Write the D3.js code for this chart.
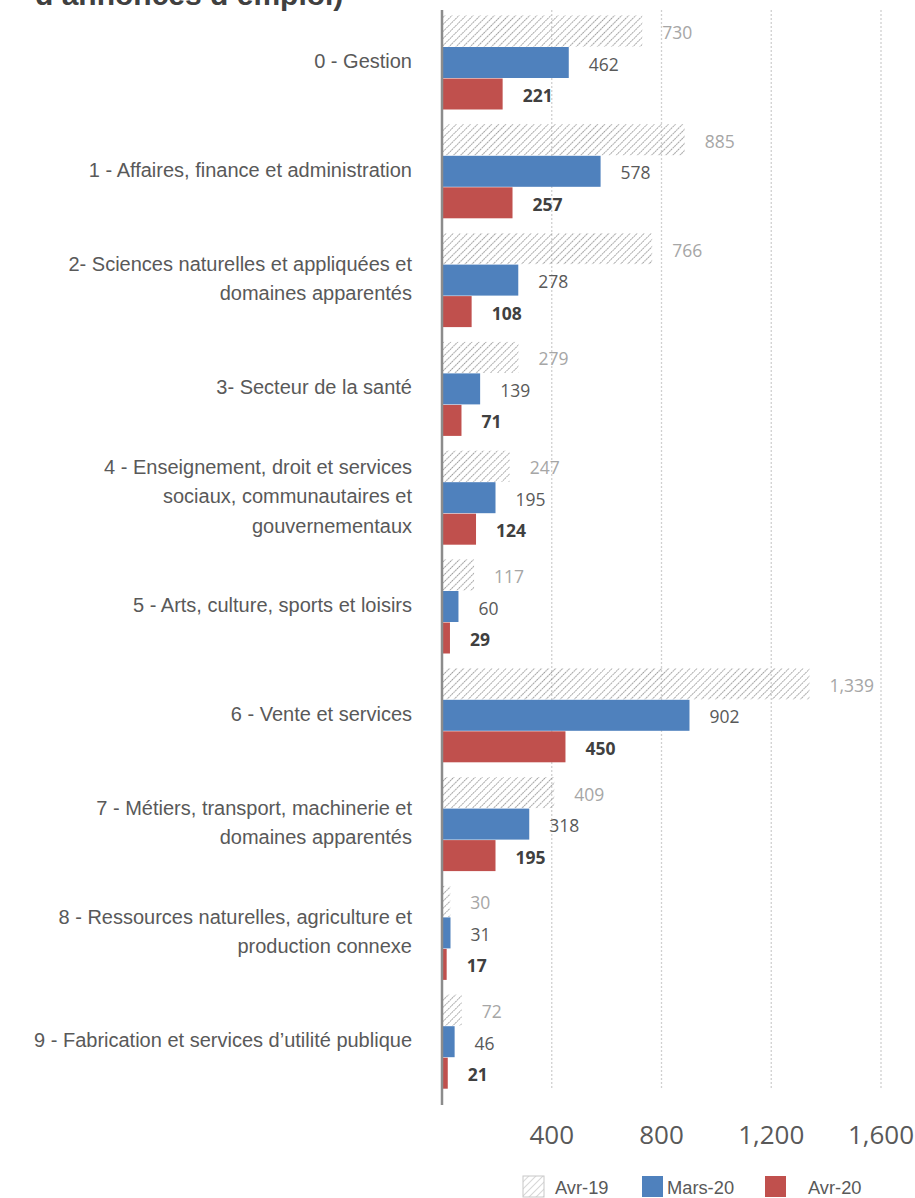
<!DOCTYPE html>
<html><head><meta charset="utf-8">
<script src="https://cdn.jsdelivr.net/npm/d3@7"></script>
<style>body{margin:0;background:#fff}svg{display:block}</style>
</head><body>
<script>
const categories = [
  ["0 - Gestion"],
  ["1 - Affaires, finance et administration"],
  ["2- Sciences naturelles et appliquées et","domaines apparentés"],
  ["3- Secteur de la santé"],
  ["4 - Enseignement, droit et services","sociaux, communautaires et","gouvernementaux"],
  ["5 - Arts, culture, sports et loisirs"],
  ["6 - Vente et services"],
  ["7 - Métiers, transport, machinerie et","domaines apparentés"],
  ["8 - Ressources naturelles, agriculture et","production connexe"],
  ["9 - Fabrication et services d’utilité publique"]
];
const seriesNames = ["Avr-19","Mars-20","Avr-20"];
const avr19 = [730,885,766,279,247,117,1339,409,30,72];
const mars20 = [462,578,278,139,195,60,902,318,31,46];
const avr20 = [221,257,108,71,124,29,450,195,17,21];
const ticks = [400,800,1200,1600];
const title = "d’annonces d’emploi)";

const W=915,H=1198;
const svg=d3.select("body").append("svg").attr("width",W).attr("height",H);
const defs=svg.append("defs");
const pat=defs.append("pattern").attr("id","hatch").attr("patternUnits","userSpaceOnUse")
  .attr("width",5).attr("height",5).attr("patternTransform","rotate(45)");
pat.append("line").attr("x1",0).attr("y1",0).attr("x2",0).attr("y2",5)
  .attr("stroke","#999").attr("stroke-width",1.9).attr("stroke-dasharray","1.8 0.7");
const pat2=defs.append("pattern").attr("id","hatchL").attr("patternUnits","userSpaceOnUse")
  .attr("width",5).attr("height",5).attr("patternTransform","rotate(45)");
pat2.append("line").attr("x1",0).attr("y1",0).attr("x2",0).attr("y2",5)
  .attr("stroke","#b0b0b0").attr("stroke-width",1);

const x=d3.scaleLinear().domain([0,1600]).range([442,881]);
const idx=d3.range(categories.length);
const y=d3.scaleBand().domain(idx).range([8.5,1096.5]);
const yi=d3.scaleBand().domain([0,1,2]).range([7,101.5]);

svg.append("text").attr("x",35).attr("y",5).attr("font-family","Liberation Sans, Arial, sans-serif")
  .attr("font-weight","bold").attr("font-size",30).attr("fill","#404040").text(title);

// gridlines
svg.append("g").selectAll("line").data(ticks).join("line")
  .attr("x1",d=>x(d)).attr("x2",d=>x(d)).attr("y1",10).attr("y2",1088)
  .attr("stroke","#d0d0d0").attr("stroke-width",1.3).attr("stroke-dasharray","2 2");

const series=[avr19,mars20,avr20];
const fills=["url(#hatch)","#4f81bd","#c0504d"];
const lblColor=["#a6a6a6","#595959","#404040"];
const lblWeight=["normal","normal","bold"];

series.forEach((vals,s)=>{
  const g=svg.append("g");
  g.selectAll("rect").data(vals).join("rect")
    .attr("x",x(0)).attr("y",(d,i)=>y(i)+yi(s)).attr("width",d=>x(d)-x(0))
    .attr("height",yi.bandwidth()-0.5).attr("fill",fills[s]);
  g.selectAll("text").data(vals).join("text")
    .attr("x",d=>x(d)+20).attr("y",(d,i)=>y(i)+yi(s)+yi.bandwidth()/2+1.5)
    .attr("dy","0.36em").attr("font-family","Open Sans, sans-serif").attr("font-size",17.5)
    .attr("fill",lblColor[s]).attr("font-weight",lblWeight[s]).text(d=>d3.format(",")(d));
});

// axis line
svg.append("line").attr("x1",x(0)).attr("x2",x(0)).attr("y1",10).attr("y2",1105)
  .attr("stroke","#8c8c8c").attr("stroke-width",2.5);

// category labels
const cl=svg.append("g").attr("font-family","Liberation Sans, Arial, sans-serif").attr("font-size",20)
  .attr("fill","#595959").attr("text-anchor","end");
categories.forEach((lines,i)=>{
  const cy=y(i)+y.bandwidth()/2-2;
  const lh=29.5;
  const t=cl.append("text").attr("x",412);
  lines.forEach((ln,j)=>{
    t.append("tspan").attr("x",412).attr("y",cy+(j-(lines.length-1)/2)*lh).attr("dy","0.35em").text(ln);
  });
});

// tick labels
svg.append("g").selectAll("text").data(ticks).join("text")
  .attr("x",d=>x(d)).attr("y",1135).attr("dy","0.36em").attr("text-anchor","middle")
  .attr("font-family","Open Sans, sans-serif").attr("font-size",26).attr("fill","#595959")
  .text(d=>d3.format(",")(d));

// legend
const leg=[{sw:523,tx:555},{sw:642,tx:667},{sw:765,tx:808}];
const legFill=["url(#hatchL)","#4f81bd","#c0504d"];
leg.forEach((l,s)=>{
  svg.append("rect").attr("x",l.sw).attr("y",1176).attr("width",21).attr("height",21)
    .attr("fill",legFill[s]).attr("stroke",s===0?"#c8c8c8":"none").attr("stroke-width",1);
  svg.append("text").attr("x",l.tx).attr("y",1187.5).attr("dy","0.36em")
    .attr("font-family","Liberation Sans, Arial, sans-serif").attr("font-size",18.3).attr("fill","#595959")
    .text(seriesNames[s]);
});
</script>
</body></html>
